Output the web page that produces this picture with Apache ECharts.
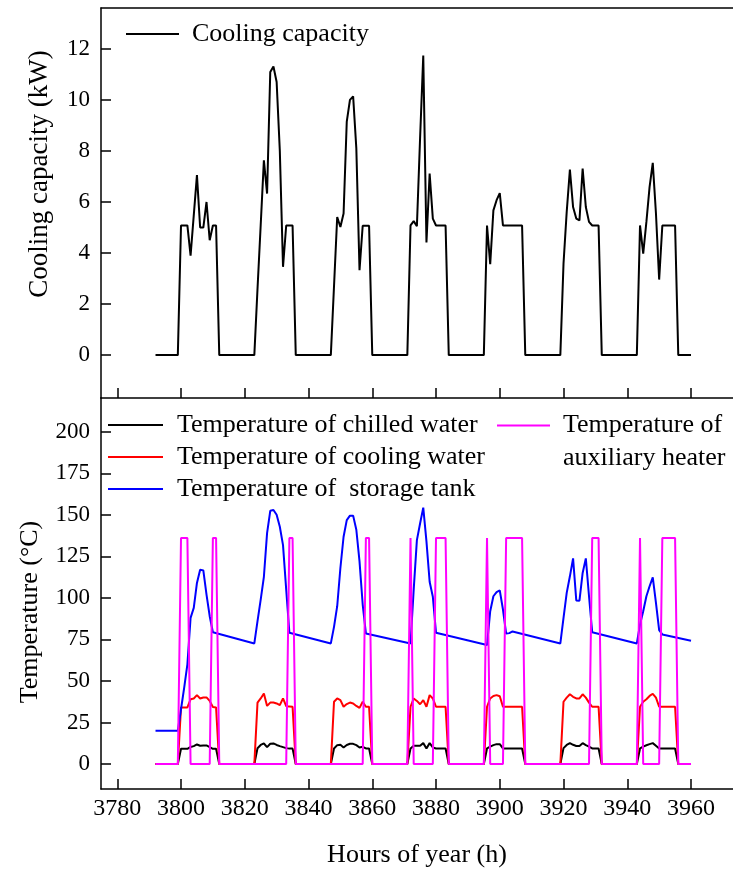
<!DOCTYPE html>
<html>
<head>
<meta charset="utf-8">
<script src="https://cdn.jsdelivr.net/npm/echarts@6/dist/echarts.min.js"></script>
<style>html,body{margin:0;padding:0;background:#fff}#c{width:733px;height:872px}</style>
</head>
<body>
<div id="c"></div>
<script>
// ---- tick labels ----
const xTicks = [3780,3800,3820,3840,3860,3880,3900,3920,3940,3960];
const yTicksTop = [0,2,4,6,8,10,12];
const yTicksBottom = [0,25,50,75,100,125,150,175,200];

// ---- cooling capacity (kW) ----
const coolingHours = [3792,3799,3800,3802,3803,3805,3806,3807,3808,3809,3810,3811,3812,
  3823,3824,3825,3826,3827,3828,3829,3830,3831,3832,3833,3835,3836,
  3847,3848,3849,3850,3851,3852,3853,3854,3855,3856,3857,3859,3860,
  3871,3872,3873,3874,3875,3876,3877,3878,3879,3880,3883,3884,
  3895,3896,3897,3898,3899,3900,3901,3907,3908,
  3919,3920,3921,3922,3923,3924,3925,3926,3927,3928,3929,3931,3932,
  3943,3944,3945,3946,3947,3948,3949,3950,3951,3955,3956,3960];
const coolingKW = [0,0,5.08,5.08,3.9,7.05,5.0,5.0,6.0,4.5,5.08,5.08,0,
  0,2.6,5.1,7.63,6.33,11.09,11.31,10.7,8.0,3.46,5.08,5.08,0,
  0,2.7,5.41,5.02,5.55,9.15,10.0,10.14,8.1,3.33,5.07,5.07,0,
  0,5.08,5.25,5.05,8.5,11.74,4.41,7.11,5.35,5.08,5.08,0,
  0,5.08,3.56,5.67,6.07,6.35,5.08,5.08,0,
  0,3.59,5.61,7.27,5.8,5.35,5.28,7.31,5.8,5.22,5.08,5.08,0,
  0,5.08,3.98,5.22,6.59,7.53,5.55,2.96,5.08,5.08,0,0];

// ---- temperature of chilled water (°C) ----
const chilledHours = [3792,3799,3800,3802,3803,3804,3805,3806,3807,3808,3809,3810,3811,3812,
  3823,3824,3825,3826,3827,3828,3829,3830,3831,3832,3833,3834,3835,3836,
  3847,3848,3849,3850,3851,3852,3853,3854,3855,3856,3857,3858,3859,3860,
  3871,3872,3873,3874,3875,3876,3877,3878,3879,3880,3883,3884,
  3895,3896,3897,3898,3899,3900,3901,3907,3908,
  3919,3920,3921,3922,3923,3924,3925,3926,3927,3928,3929,3931,3932,
  3943,3944,3945,3946,3947,3948,3949,3950,3955,3956,3960];
const chilledT = [0,0,9.2,9.2,10.3,10.8,11.8,11,11.2,11.2,10.2,9.2,9.2,0,
  0,9.5,11.5,12.4,10.2,12.2,12.4,11.5,10.8,10.2,9.6,9.3,9.3,0,
  0,9.4,11.4,11.6,10,11.5,12.2,12.2,11.4,10,10.4,9.4,9.4,0,
  0,9.4,11,11,11,12.6,9.4,12.6,10,9.4,9.4,0,
  0,9.4,10.5,11.4,12,12,9.4,9.4,0,
  0,9.6,11.5,12.6,11.6,10.9,10.9,12.6,11.4,10.5,9.4,9.4,0,
  0,9.4,10.5,11.3,12,12.6,11,9.4,9.4,0,0];

// ---- temperature of cooling water (°C) ----
const coolingWaterHours = [3792,3799,3800,3802,3803,3804,3805,3806,3807,3808,3809,3810,3811,3812,
  3823,3824,3825,3826,3827,3828,3829,3830,3831,3832,3833,3835,3836,
  3847,3848,3849,3850,3851,3852,3853,3854,3855,3856,3857,3858,3859,3860,
  3871,3872,3873,3874,3875,3876,3877,3878,3879,3880,3883,3884,
  3895,3896,3897,3898,3899,3900,3901,3907,3908,
  3919,3920,3921,3922,3923,3924,3925,3926,3927,3928,3929,3931,3932,
  3943,3944,3945,3946,3947,3948,3949,3950,3955,3956,3960];
const coolingWaterT = [0,0,34.1,34.1,39,39.5,41.5,39.5,40.1,40.1,38,34.3,34.1,0,
  0,37,39.5,42.5,35,37,37,36.5,35.5,39.5,34.8,34.5,0,
  0,37.5,39.5,38.5,34.5,36.1,37,36.5,35,33.8,37.5,34.5,34.5,0,
  0,34.5,39.5,38,36,38.5,34.5,41.5,39.5,34.5,34.5,0,
  0,34.5,39.5,41,41.5,40.8,34.5,34.5,0,
  0,37.5,40,42,40.5,39.5,39.5,42,40,37,34.5,34.5,0,
  0,34.5,37.5,39,41,42.3,40,34.5,34.5,0,0];

// ---- temperature of storage tank (°C) ----
const storageHours = [3792,3799,3800,3801,3802,3803,3804,3805,3806,3807,3808,3809,3810,
  3823,3824,3825,3826,3827,3828,3829,3830,3831,3832,3833,3834,
  3847,3848,3849,3850,3851,3852,3853,3854,3855,3856,3857,3858,
  3872,3873,3874,3875,3876,3877,3878,3879,3880,
  3896,3897,3898,3899,3900,3901,3902,3903,3904,
  3919,3920,3921,3922,3923,3924,3925,3926,3927,3928,3929,
  3943,3944,3945,3946,3947,3948,3949,3950,3951,3960];
const storageT = [20,20,33,46,60,88,94,109,117,116.5,102,89,79.3,
  72.6,86,99,112.7,139,152.4,152.9,150,142.8,131.8,105,79,
  72.6,82.6,95,118,136.8,146.8,149.5,149.5,141,122,96,78.6,
  72.6,105,134.8,144.8,154.3,134,109.7,100.7,79,
  71.6,92,101,103.5,104.5,93,78.5,78.8,79.8,
  72.6,88,103,113,123.8,98.5,98.3,115,123.8,101,79.3,
  72.6,84,92,101,107,112.3,97,80.6,78,74.2];

// ---- temperature of auxiliary heater (°C) ----
const heaterHours = [3792,3799,3800,3802,3803,3809,3810,3811,3812,
  3833,3834,3835,3836,3857,3858,3859,3860,
  3871,3872,3873,3879,3880,3883,3884,
  3895,3896,3897,3901,3902,3907,3908,
  3928,3929,3931,3932,
  3943,3944,3945,3950,3951,3955,3956,3960];
const heaterT = [0,0,136,136,0,0,136,136,0,
  0,136,136,0,0,136,136,0,
  0,136,0,0,136,136,0,
  0,136,0,0,136,136,0,
  0,136,136,0,
  0,136,0,0,136,136,0,0];

const zip = (xs, ys) => xs.map((x, i) => [x, ys[i]]);

const FONT = 'Liberation Serif';
const XMIN = 3774.9, XMAX = 3973.17;
const axisLineStyle = {color: '#000', width: 1.5};

function xAxisBase(gridIndex, position) {
  return {
    gridIndex, type: 'value', min: XMIN, max: XMAX, position,
    axisLine: {show: true, onZero: false, lineStyle: axisLineStyle},
    splitLine: {show: false}
  };
}

const chart = echarts.init(document.getElementById('c'), null, {renderer: 'canvas'});
const textBase = {fontFamily: FONT, color: '#000'};
const plain = v => String(v);

chart.setOption({
  animation: false,
  backgroundColor: '#fff',
  grid: [
    {left: 101, top: 8, width: 632, height: 390},
    {left: 101, top: 398, width: 632, height: 391}
  ],
  xAxis: [
    Object.assign(xAxisBase(0, 'bottom'), {
      axisTick: {inside: true, length: 10, customValues: xTicks, lineStyle: axisLineStyle},
      axisLabel: {show: false}
    }),
    Object.assign(xAxisBase(0, 'top'), {
      axisTick: {show: false}, axisLabel: {show: false}
    }),
    Object.assign(xAxisBase(1, 'bottom'), {
      axisTick: {inside: true, length: 10, customValues: xTicks, lineStyle: axisLineStyle},
      axisLabel: Object.assign({customValues: xTicks, formatter: plain, fontSize: 24, margin: 8}, textBase),
      name: 'Hours of year (h)', nameLocation: 'middle', nameGap: 53,
      nameTextStyle: Object.assign({fontSize: 26}, textBase)
    })
  ],
  yAxis: [
    {
      gridIndex: 0, type: 'value', min: -1.68, max: 13.6,
      axisLine: {show: true, onZero: false, lineStyle: axisLineStyle},
      axisTick: {inside: true, length: 10, customValues: yTicksTop, lineStyle: axisLineStyle},
      axisLabel: Object.assign({customValues: yTicksTop, formatter: plain, fontSize: 23, margin: 11}, textBase),
      splitLine: {show: false},
      name: 'Cooling capacity (kW)', nameLocation: 'middle', nameGap: 48,
      nameTextStyle: Object.assign({fontSize: 27, padding: [0, 0, 0, 58]}, textBase)
    },
    {
      gridIndex: 1, type: 'value', min: -15, max: 220.3,
      axisLine: {show: true, onZero: false, lineStyle: axisLineStyle},
      axisTick: {inside: true, length: 10, customValues: yTicksBottom, lineStyle: axisLineStyle},
      axisLabel: Object.assign({customValues: yTicksBottom, formatter: plain, fontSize: 23, margin: 11}, textBase),
      splitLine: {show: false},
      name: 'Temperature (°C)', nameLocation: 'middle', nameGap: 58,
      nameTextStyle: Object.assign({fontSize: 26, padding: [0, 37, 0, 0]}, textBase)
    }
  ],
  legend: [
    {
      data: ['Cooling capacity'], left: 126, top: 21, padding: 0,
      icon: 'rect', itemWidth: 53, itemHeight: 2, selectedMode: false,
      textStyle: Object.assign({fontSize: 26, lineHeight: 26, padding: [0, 0, 0, 8]}, textBase)
    },
    {
      data: ['Temperature of chilled water', 'Temperature of cooling water', 'Temperature of  storage tank'],
      orient: 'vertical', left: 108, top: 412, padding: 0, itemGap: 6,
      icon: 'rect', itemWidth: 55, itemHeight: 2, selectedMode: false,
      textStyle: Object.assign({fontSize: 26, lineHeight: 26, padding: [0, 0, 0, 9]}, textBase)
    },
    {
      data: ['Temperature of auxiliary heater'], left: 497, top: 376, padding: 0,
      icon: 'rect', itemWidth: 53, itemHeight: 2, selectedMode: false,
      formatter: () => '\nTemperature of\nauxiliary heater',
      textStyle: Object.assign({fontSize: 26, lineHeight: 33, padding: [0, 0, 0, 8]}, textBase)
    }
  ],
  series: [
    {
      name: 'Cooling capacity', type: 'line', xAxisIndex: 0, yAxisIndex: 0,
      data: zip(coolingHours, coolingKW), symbol: 'none',
      lineStyle: {color: '#000', width: 2}, itemStyle: {color: '#000'}
    },
    {
      name: 'Temperature of chilled water', type: 'line', xAxisIndex: 2, yAxisIndex: 1,
      data: zip(chilledHours, chilledT), symbol: 'none',
      lineStyle: {color: '#000', width: 2}, itemStyle: {color: '#000'}
    },
    {
      name: 'Temperature of cooling water', type: 'line', xAxisIndex: 2, yAxisIndex: 1,
      data: zip(coolingWaterHours, coolingWaterT), symbol: 'none',
      lineStyle: {color: '#ff0000', width: 2}, itemStyle: {color: '#ff0000'}
    },
    {
      name: 'Temperature of  storage tank', type: 'line', xAxisIndex: 2, yAxisIndex: 1,
      data: zip(storageHours, storageT), symbol: 'none',
      lineStyle: {color: '#0000ff', width: 2}, itemStyle: {color: '#0000ff'}
    },
    {
      name: 'Temperature of auxiliary heater', type: 'line', xAxisIndex: 2, yAxisIndex: 1,
      data: zip(heaterHours, heaterT), symbol: 'none',
      lineStyle: {color: '#ff00ff', width: 2}, itemStyle: {color: '#ff00ff'}
    }
  ]
});
</script>
</body>
</html>
